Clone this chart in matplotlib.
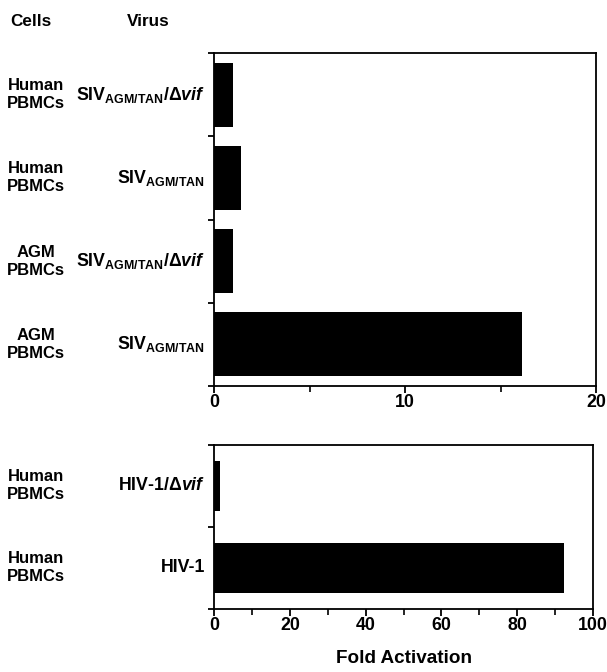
import matplotlib
matplotlib.use("Agg")
import matplotlib.pyplot as plt
from matplotlib.transforms import blended_transform_factory
from matplotlib.ticker import MultipleLocator, FixedLocator, NullFormatter

# data (fold activation)
top_cells = ["Human\nPBMCs", "Human\nPBMCs", "AGM\nPBMCs", "AGM\nPBMCs"]
top_virus = [r"$\mathrm{SIV}_{\mathrm{AGM/TAN}}/\mathsf{\Delta}\mathit{vif}$",
             r"$\mathrm{SIV}_{\mathrm{AGM/TAN}}$",
             r"$\mathrm{SIV}_{\mathrm{AGM/TAN}}/\mathsf{\Delta}\mathit{vif}$",
             r"$\mathrm{SIV}_{\mathrm{AGM/TAN}}$"]
top_values = [1.0, 1.4, 1.0, 16.1]

bottom_cells = ["Human\nPBMCs", "Human\nPBMCs"]
bottom_virus = [r"$\mathrm{HIV}$-$\mathrm{1/}\mathsf{\Delta}\mathit{vif}$", "HIV-1"]
bottom_values = [1.6, 92.3]

plt.rcParams["font.family"] = ["Liberation Sans", "DejaVu Sans"]
plt.rcParams["font.weight"] = "bold"
plt.rcParams["mathtext.fontset"] = "custom"
plt.rcParams["mathtext.rm"] = "Liberation Sans:bold"
plt.rcParams["mathtext.it"] = "Liberation Sans:bold:italic"
plt.rcParams["mathtext.bf"] = "Liberation Sans:bold"
plt.rcParams["mathtext.sf"] = "Liberation Sans"

fig = plt.figure(figsize=(6.07, 6.72), dpi=100)
fig.patch.set_facecolor("white")

ax1 = fig.add_axes([0.3526, 0.4256, 0.6293, 0.4955])
ax2 = fig.add_axes([0.3526, 0.0938, 0.6244, 0.2440])


def style_axis(ax, cells, virus, values, xmax, major, minor, bar_h):
    n = len(values)
    ypos = list(range(n))
    ax.barh(ypos, values, height=bar_h, color="black")
    ax.set_xlim(0, xmax)
    ax.set_ylim(n - 0.5, -0.5)
    for s in ax.spines.values():
        s.set_linewidth(1.3)
    ax.xaxis.set_major_locator(MultipleLocator(major))
    ax.xaxis.set_minor_locator(MultipleLocator(minor))
    ax.tick_params(axis="x", which="major", direction="out", length=5,
                   width=1.3, pad=1, labelsize=12.8)
    ax.tick_params(axis="x", which="minor", direction="out", length=4, width=1.2)
    # small ticks on the left spine mark the row boundaries
    ax.yaxis.set_major_locator(FixedLocator([y - 0.5 for y in range(n + 1)]))
    ax.yaxis.set_major_formatter(NullFormatter())
    ax.tick_params(axis="y", direction="out", length=4, width=1.3)
    for lab in ax.get_xticklabels():
        lab.set_fontweight("bold")

    tr = blended_transform_factory(fig.transFigure, ax.transData)
    for y, c, v in zip(ypos, cells, virus):
        ax.text(36 / 607, y, c, transform=tr, ha="center", va="center",
                fontsize=12, fontweight="bold", linespacing=1.25)
        ax.text(205 / 607, y, v, transform=tr, ha="right", va="center",
                fontsize=12.8, fontweight="bold")


style_axis(ax1, top_cells, top_virus, top_values, 20, 10, 5, 0.77)
style_axis(ax2, bottom_cells, bottom_virus, bottom_values, 100, 20, 10, 0.62)

ax2.set_xlabel("Fold Activation", fontsize=13.6, fontweight="bold", labelpad=11)

fig.text(10 / 607, 1 - 21 / 672, "Cells", ha="left", va="center",
         fontsize=12.3, fontweight="bold")
fig.text(127 / 607, 1 - 21 / 672, "Virus", ha="left", va="center",
         fontsize=12.3, fontweight="bold")

fig.savefig("out.png", dpi=100)
